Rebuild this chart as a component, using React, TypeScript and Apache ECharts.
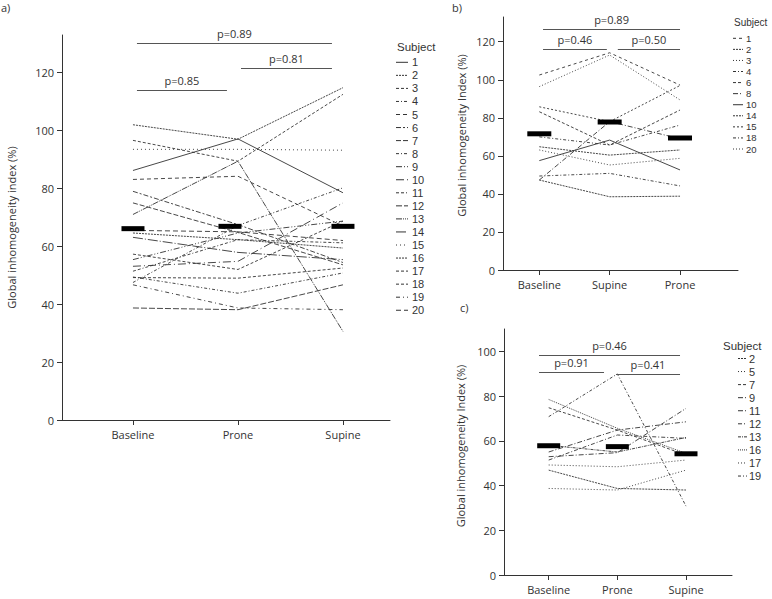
import React, { useEffect, useRef } from "react";
import * as echarts from "echarts";

// ---------- data ----------
const categoriesA = ["Baseline", "Prone", "Supine"];
const categoriesB = ["Baseline", "Supine", "Prone"];
const categoriesC = ["Baseline", "Prone", "Supine"];

const subjectsA = ["1", "2", "3", "4", "5", "6", "7", "8", "9", "10", "11", "12", "13", "14", "15", "16", "17", "18", "19", "20"];
const baselineA = [86.2, 102, 96.6, 49.4, 83.1, 79, 75, 47.5, 55.4, 53.1, 51.4, 38.7, 71, 63.1, 93.5, 64.6, 49.2, 57.3, 46.7, 65.5];
const proneA = [97.1, 97, 89.4, 43.8, 84.2, 67.5, 64.8, 67.2, 64.6, 54.8, 62.3, 38.1, 89.4, 57.9, 93.5, 62.3, 49, 52, 38.7, 65];
const supineA = [78.5, 114.8, 112.5, 50.8, 67, 54.4, 53.6, 80.2, 68.7, 75, 61.2, 46.7, 30.6, 55.4, 93.2, 59.4, 52.5, 68.7, 38.1, 62];
const meanA = [66.1, 66.9, 66.9];

const subjectsB = ["1", "2", "3", "4", "6", "8", "10", "14", "15", "18", "20"];
const baselineB = [102.5, 47.3, 96.4, 49.4, 83.2, 47.3, 57.5, 64.8, 85.8, 70, 63.1];
const supineB = [114.2, 38.5, 113, 50.8, 65.7, 78, 68.3, 60.4, 78, 65.7, 55.2];
const proneB = [97.2, 38.8, 89.4, 44.2, 84.1, 69, 52.6, 63.1, 97, 76.2, 58.7];
const meanB = [71.6, 77.8, 69.4];

const subjectsC = ["2", "5", "7", "9", "11", "12", "13", "16", "17", "19"];
const baselineC = [46.9, 49.2, 74.8, 52.9, 55, 51.4, 58, 78.5, 38.7, 70.8];
const proneC = [38.7, 48.4, 64.8, 54.7, 64.8, 62.6, 55, 65.6, 38, 89.9];
const supineC = [38, 51.4, 53.6, 74.5, 68.5, 61.1, 61.5, 54.4, 46.9, 30.8];
const meanC = [57.8, 57.4, 54.2];

const pLabelsA = ["p=0.85", "p=0.81", "p=0.89"];
const pLabelsB = ["p=0.46", "p=0.50", "p=0.89"];
const pLabelsC = ["p=0.91", "p=0.41", "p=0.46"];

const yTicksA = [0, 20, 40, 60, 80, 100, 120];
const yTicksB = [0, 20, 40, 60, 80, 100, 120];
const yTicksC = [0, 20, 40, 60, 80, 100];

// ---------- styles ----------
const dashA: Record<string, any> = {
  "1": "solid", "2": [2, 1], "3": [3, 2], "4": [3, 2, 1, 2], "5": [4, 3],
  "6": [5, 2, 2, 2], "7": [5, 2], "8": [3, 2, 1, 2], "9": [6, 2, 1, 2, 1, 2], "10": [8, 3, 1, 3],
  "11": [3, 2, 3, 2, 1, 2], "12": [6, 2], "13": [6, 1, 1, 1, 1, 1], "14": [10, 2, 1, 2], "15": [1, 3],
  "16": [2, 1], "17": [3, 2], "18": [3, 2], "19": [4, 3, 1, 3], "20": [5, 3],
};
const dashB: Record<string, any> = {
  "1": [3, 3], "2": [2, 1], "3": [1, 2], "4": [3, 2, 1, 2], "6": [3, 2], "8": [5, 2, 1, 2],
  "10": "solid", "14": [2, 1], "15": [2, 2], "18": [3, 2, 1, 2], "20": [1, 2],
};
const dashC: Record<string, any> = {
  "2": [2, 1], "5": [1, 2], "7": [3, 2], "9": [5, 2, 1, 2], "11": [5, 2, 1, 2], "12": [4, 2, 1, 2],
  "13": [3, 1, 1, 1], "16": [1, 1], "17": [1, 2], "19": [3, 2, 1, 2],
};

const FONT = '"Open Sans", "Noto Sans", sans-serif';
const LEGEND_FONT = '"Liberation Sans", Arial, sans-serif';
const INK = "#333";

function toGraphicDash(d: any) {
  return d === "solid" ? null : d;
}

export default function App() {
  const ref = useRef<HTMLDivElement>(null);
  useEffect(() => {
    if (!ref.current) return;
    document.body.style.margin = "0";
    const chart = echarts.init(ref.current, undefined, { renderer: "svg" });

    const grids = [
      { left: 62, top: 35, width: 328, height: 385 },
      { left: 503, top: 17, width: 235, height: 253 },
      { left: 504, top: 329, width: 228, height: 246 },
    ];
    const xRanges = [
      [0.324, 3.448],
      [0.484, 3.824],
      [0.349, 3.67],
    ];
    const yMax = [133, 133, 110];
    const yTicks = [yTicksA, yTicksB, yTicksC];
    const cats = [categoriesA, categoriesB, categoriesC];
    const yNames = [
      "Global inhomogeneity index (%)",
      "Global inhomogeneity Index (%)",
      "Global inhomogeneity Index (%)",
    ];
    const nameGaps = [45, 36, 38];
    const namePads = [
      [0, 0, 0, 0],
      [0, 0, 0, 16],
      [0, 0, 0, 12],
    ];

    const xAxis = grids.map((_, i) => ({
      type: "value",
      gridIndex: i,
      min: xRanges[i][0],
      max: xRanges[i][1],
      splitLine: { show: false },
      axisLine: { show: true, lineStyle: { color: INK, width: 1 } },
      axisTick: { show: true, customValues: [1, 2, 3], length: 5, lineStyle: { color: INK } },
      axisLabel: {
        customValues: [1, 2, 3],
        formatter: (v: number) => cats[i][Math.round(v) - 1] || "",
        color: INK,
        fontSize: 11,
        fontFamily: FONT,
        margin: 9,
      },
    }));
    const yAxis = grids.map((_, i) => ({
      type: "value",
      gridIndex: i,
      min: 0,
      max: yMax[i],
      splitLine: { show: false },
      axisLine: { show: true, lineStyle: { color: INK, width: 1 } },
      axisTick: { show: true, customValues: yTicks[i], length: 5, lineStyle: { color: INK } },
      axisLabel: {
        customValues: yTicks[i],
        color: INK,
        fontSize: 11,
        fontFamily: FONT,
        margin: 8,
      },
      name: yNames[i],
      nameLocation: "middle",
      nameGap: nameGaps[i],
      nameTextStyle: { color: INK, fontSize: 11, fontFamily: FONT, padding: namePads[i] },
    }));

    const series: any[] = [];
    const addLines = (idx: number, subs: string[], v0: number[], v1: number[], v2: number[], dash: Record<string, any>) => {
      subs.forEach((s, k) => {
        series.push({
          type: "line",
          name: `${"abc"[idx]}${s}`,
          xAxisIndex: idx,
          yAxisIndex: idx,
          data: [[1, v0[k]], [2, v1[k]], [3, v2[k]]],
          symbol: "none",
          silent: true,
          lineStyle: { color: "#333", width: 0.9, type: dash[s] },
          z: 2,
        });
      });
    };
    addLines(0, subjectsA, baselineA, proneA, supineA, dashA);
    addLines(1, subjectsB, baselineB, supineB, proneB, dashB);
    addLines(2, subjectsC, baselineC, proneC, supineC, dashC);

    const bracketDefs = [
      {
        labels: pLabelsA,
        spans: [
          [1.038, 1.895, 113.9],
          [2.029, 2.895, 121.5],
          [1.038, 2.895, 130.1],
        ],
      },
      {
        labels: pLabelsB,
        spans: [
          [1.053, 1.96, 116.2],
          [2.116, 3.0, 116.2],
          [1.053, 3.0, 126.7],
        ],
      },
      {
        labels: pLabelsC,
        spans: [
          [0.859, 1.806, 90.7],
          [1.98, 2.913, 89.9],
          [0.859, 2.913, 98.3],
        ],
      },
    ];
    const means = [meanA, meanB, meanC];
    const barSizes = [[23, 5], [24, 5], [23, 5]];
    const barOffsets = [[0, -8, 0], [0, 0, 0], [0, 0, 0]];

    means.forEach((m, i) => {
      series.push({
        type: "scatter",
        xAxisIndex: i,
        yAxisIndex: i,
        symbol: "rect",
        symbolSize: barSizes[i],
        silent: true,
        itemStyle: { color: "#000", opacity: 1 },
        z: 5,
        data: m.map((v, k) => ({ value: [k + 1, v], symbolOffset: [barOffsets[i][k], 0] })),
        markLine: {
          silent: true,
          symbol: ["none", "none"],
          lineStyle: { color: "#555", width: 1, type: "solid", opacity: 1 },
          label: {
            show: true,
            position: "insideMiddleTop",
            distance: 4,
            color: INK,
            fontSize: 11,
            fontFamily: FONT,
          },
          data: bracketDefs[i].spans.map((sp, k) => [
            { coord: [sp[0], sp[2]], label: { formatter: bracketDefs[i].labels[k] } },
            { coord: [sp[1], sp[2]] },
          ]),
        },
      });
    });

    // ---------- legends (graphic) ----------
    const graphic: any[] = [];
    const txt = (text: string, x: number, y: number, size = 11, family = FONT) => ({
      type: "text",
      x,
      y,
      silent: true,
      style: {
        text,
        fill: INK,
        font: `${size}px ${family}`,
        align: "left",
        verticalAlign: "middle",
      },
    });
    const legend = (
      subs: string[],
      dash: Record<string, any>,
      titleX: number,
      titleY: number,
      firstY: number,
      step: number,
      lx1: number,
      lx2: number,
      tx: number,
      size: number
    ) => {
      graphic.push(txt("Subject", titleX, titleY, size + 0.5, LEGEND_FONT));
      subs.forEach((s, k) => {
        const y = firstY + step * k;
        graphic.push({
          type: "line",
          silent: true,
          shape: { x1: lx1, y1: y, x2: lx2, y2: y },
          style: { stroke: "#333", lineWidth: 1, lineDash: toGraphicDash(dash[s]) },
        });
        graphic.push(txt(s, tx, y, size, LEGEND_FONT));
      });
    };
    legend(subjectsA, dashA, 397, 47, 62.3, 13.05, 396, 408, 412, 11);
    legend(subjectsB, dashB, 734, 22.5, 38.3, 11.07, 733, 743, 746, 9.5);
    legend(subjectsC, dashC, 723, 345.5, 358.5, 13.06, 738, 747, 749, 11);

    graphic.push(txt("a)", 1, 7));
    graphic.push(txt("b)", 452, 7.5));
    graphic.push(txt("c)", 460, 307));

    chart.setOption({
      animation: false,
      backgroundColor: "#fff",
      textStyle: { fontFamily: FONT },
      grid: grids,
      xAxis,
      yAxis,
      series,
      graphic,
    });
    return () => chart.dispose();
  }, []);
  return (
    <div
      ref={ref}
      style={{ position: "fixed", left: 0, top: 0, width: 772, height: 599, background: "#fff" }}
    />
  );
}
